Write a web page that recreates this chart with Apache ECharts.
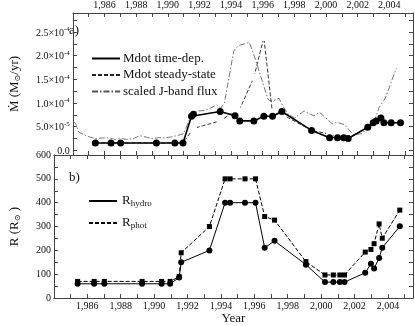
<!DOCTYPE html>
<html>
<head>
<meta charset="utf-8">
<script src="https://cdn.jsdelivr.net/npm/echarts@6/dist/echarts.min.js"></script>
<style>
  html, body { margin: 0; padding: 0; background: #fff; }
  #chart { width: 415px; height: 326px; }
</style>
</head>
<body>
<div id="chart"></div>
<script>
// panel a) – accretion rate, in units of 1e-5 Msun/yr
const yearsA = [1985.42, 1986.41, 1987.02, 1989.28, 1990.45, 1990.96, 1991.5, 1991.62, 1993.31, 1994.25, 1994.55, 1995.44, 1996.07, 1996.62, 1997.21, 1999.09, 2000.23, 2000.73, 2001.12, 2001.4, 2002.64, 2002.98, 2003.17, 2003.47, 2003.66, 2004.12, 2004.71]
const mdotTimeDep = [1.55, 1.55, 1.55, 1.55, 1.55, 1.55, 7.2, 7.6, 8.2, 7.3, 6.2, 6.2, 7.2, 7.2, 8.2, 4.2, 2.65, 2.65, 2.65, 2.5, 4.85, 5.8, 6.2, 6.8, 5.8, 5.8, 5.8]

const yearsSteady = [1985.42, 1986.41, 1987.02, 1989.28, 1990.45, 1990.96, 1991.62, 1993.31, 1994.25, 1994.5, 1995.44, 1996.07, 1996.62, 1997.21, 1999.09, 2000.23, 2000.73, 2001.12, 2001.4, 2002.64, 2002.98, 2003.17, 2003.35, 2003.6]
const mdotSteady = [1.55, 1.55, 1.55, 1.55, 1.55, 1.55, 4.6, 6.2, 8.3, 8.3, 15.4, 23.8, 7.8, 7.6, 4.2, 3.4, 2.65, 2.65, 2.5, 4.85, 5.8, 4.8, 3.9, 3.9]

const yearsJ = [1984.0, 1984.18, 1984.37, 1984.67, 1985.07, 1985.46, 1985.85, 1986.25, 1986.65, 1987.04, 1987.44, 1987.83, 1988.22, 1988.62, 1989.02, 1989.41, 1989.81, 1990.2, 1990.59, 1990.99, 1991.5, 1991.9, 1992.3, 1992.7, 1993.1, 1993.35, 1993.58, 1994.17, 1994.47, 1995.15, 1995.36, 1995.65, 1996.0, 1996.34, 1996.54, 1996.84, 1997.03, 1997.33, 1997.63, 1998.02, 1998.61, 1999.21, 1999.6, 2000.39, 2000.69, 2001.18, 2001.72, 2002.26, 2002.56, 2002.96, 2003.35, 2003.75, 2004.44]
const jbandFlux = [6.2, 5.6, 3.8, 3.35, 2.8, 2.45, 2.6, 2.6, 2.3, 2.45, 2.3, 2.45, 3.1, 2.8, 2.45, 2.65, 2.65, 2.8, 3.1, 3.5, 7.5, 8.3, 8.4, 8.9, 9.6, 8.9, 10.0, 21.0, 22.1, 22.8, 21.0, 18.0, 14.3, 10.7, 10.4, 10.7, 11.0, 9.0, 7.6, 6.8, 8.3, 7.3, 8.0, 5.6, 5.9, 5.4, 3.3, 3.5, 4.5, 5.2, 9.0, 11.0, 17.3]

// panel b) – radii in Rsun
const yearsB = [1985.42, 1986.41, 1987.02, 1989.28, 1990.45, 1990.96, 1991.5, 1991.62, 1993.31, 1994.25, 1994.55, 1995.44, 1996.07, 1996.62, 1997.21, 1999.09, 2000.23, 2000.73, 2001.12, 2001.4, 2002.64, 2002.98, 2003.17, 2003.47, 2003.66, 2004.71]
const rHydro = [60, 60, 60, 60, 60, 60, 86, 150, 200, 400, 400, 400, 400, 211, 240, 140, 67, 67, 67, 67, 106, 144, 124, 168, 211, 301]
const rPhot = [70, 70, 70, 70, 70, 70, 90, 190, 300, 500, 500, 500, 500, 342, 327, 153, 97, 97, 97, 97, 193, 204, 228, 311, 251, 369]

const yearLabels = [1986, 1988, 1990, 1992, 1994, 1996, 1998, 2000, 2002, 2004]
const yearTicks = [1985, 1986, 1987, 1988, 1989, 1990, 1991, 1992, 1993, 1994, 1995, 1996, 1997, 1998, 1999, 2000, 2001, 2002, 2003, 2004, 2005]
const mdotLabels = [0, 5, 10, 15, 20, 25]
const mdotTicks = [0, 2.5, 5, 7.5, 10, 12.5, 15, 17.5, 20, 22.5, 25, 27.5]

const pairs = (xs, ys) => xs.map((x, i) => [x, ys[i]])

const FONT = 'Liberation Serif'
const INK = '#111'
const frame = { show: true, onZero: false, lineStyle: { color: '#444', width: 1 } }

function xAx(grid, pos, labels, extra) {
  return Object.assign({
    type: 'value', gridIndex: grid, position: pos, min: 1984, max: 2005.5,
    axisLine: frame,
    axisTick: { inside: true, length: 4, customValues: yearTicks, lineStyle: { color: '#444' } },
    axisLabel: labels
      ? { show: true, customValues: yearLabels, margin: 3, fontFamily: FONT, fontSize: 10, color: INK }
      : { show: false },
    splitLine: { show: false },
  }, extra || {})
}

const chart = echarts.init(document.getElementById('chart'))

chart.setOption({
  animation: false,
  textStyle: { fontFamily: FONT },
  grid: [
    { left: 50, top: 10, width: 363, height: 145 },
    { left: 50, top: 155, width: 363, height: 149 },
  ],
  xAxis: [
    xAx(0, 'top', true),
    xAx(0, 'bottom', false),
    xAx(1, 'bottom', true, {
      name: 'Year', nameLocation: 'middle', nameGap: 10,
      nameTextStyle: { fontFamily: FONT, fontSize: 13, color: INK },
    }),
    xAx(1, 'top', false),
  ],
  yAxis: [
    {
      type: 'value', gridIndex: 0, position: 'left', min: -1, max: 29,
      axisLine: frame,
      axisTick: { inside: true, length: 4, customValues: mdotTicks, lineStyle: { color: '#444' } },
      axisLabel: {
        customValues: mdotLabels, margin: 3, color: INK,
        formatter: v => v === 0 ? '{b|0.0}'
          : v === 5 ? '{b|5.0×10}{s|-5}'
          : '{b|' + (v / 10).toFixed(1) + '×10}{s|-4}',
        rich: {
          b: { fontFamily: FONT, fontSize: 10, lineHeight: 12, verticalAlign: 'bottom', padding: [4, 0, 0, 0], color: INK },
          s: { fontFamily: FONT, fontSize: 7, lineHeight: 8, verticalAlign: 'top', color: INK },
        },
      },
      splitLine: { show: false },
      name: '{m|Ṁ (M}{o|⊙}{m|/yr)}', nameLocation: 'middle', nameGap: 33, nameRotate: 90,
      nameTextStyle: {
        rich: {
          m: { fontFamily: FONT, fontSize: 13, lineHeight: 14, verticalAlign: 'top', padding: [0, 0, 4, 0], color: INK },
          o: { fontFamily: 'DejaVu Serif', fontSize: 8, lineHeight: 9, verticalAlign: 'bottom', color: INK },
        },
      },
    },
    {
      type: 'value', gridIndex: 0, position: 'right', min: -1, max: 29,
      axisLine: frame,
      axisTick: { inside: true, length: 4, customValues: mdotTicks, lineStyle: { color: '#444' } },
      axisLabel: { show: false }, splitLine: { show: false },
    },
    {
      type: 'value', gridIndex: 1, position: 'left', min: 0, max: 600, interval: 100,
      axisLine: frame,
      axisTick: { inside: true, length: 4, lineStyle: { color: '#444' } },
      minorTick: { show: true, splitNumber: 2, length: 4, lineStyle: { color: '#444' } },
      axisLabel: { margin: 3, fontFamily: FONT, fontSize: 10, color: INK },
      splitLine: { show: false },
      name: '{m|R (R}{o|⊙}{m| )}', nameLocation: 'middle', nameGap: 24, nameRotate: 90,
      nameTextStyle: {
        rich: {
          m: { fontFamily: FONT, fontSize: 13, lineHeight: 14, verticalAlign: 'top', padding: [0, 0, 4, 0], color: INK },
          o: { fontFamily: 'DejaVu Serif', fontSize: 8, lineHeight: 9, verticalAlign: 'bottom', color: INK },
        },
      },
    },
    {
      type: 'value', gridIndex: 1, position: 'right', min: 0, max: 600, interval: 100,
      axisLine: frame,
      axisTick: { inside: true, length: 4, lineStyle: { color: '#444' } },
      minorTick: { show: true, splitNumber: 2, length: 4, lineStyle: { color: '#444' } },
      axisLabel: { show: false }, splitLine: { show: false },
    },
  ],
  legend: [
    {
      data: ['Mdot time-dep.', 'Mdot steady-state', 'scaled J-band flux'],
      orient: 'vertical', left: 86, top: 47, itemWidth: 28, itemHeight: 12, itemGap: 3.5,
      itemStyle: { opacity: 0 },
      textStyle: { fontFamily: FONT, fontSize: 13, color: INK, padding: [0, 0, 0, -2] },
      selectedMode: false,
    },
    {
      data: ['Rhydro', 'Rphot'],
      orient: 'vertical', left: 83, top: 189, itemWidth: 28, itemHeight: 14, itemGap: 5,
      itemStyle: { opacity: 0 },
      formatter: n => '{r|R}{u|' + n.slice(1) + '}',
      textStyle: {
        rich: {
          r: { fontFamily: FONT, fontSize: 13, lineHeight: 14, verticalAlign: 'top', padding: [0, 0, 4, 0], color: INK },
          u: { fontFamily: FONT, fontSize: 9, lineHeight: 10, verticalAlign: 'bottom', color: INK },
        },
      },
      selectedMode: false,
    },
  ],
  graphic: [
    { type: 'text', left: 69, top: 24, style: { text: 'a)', font: '13px "Liberation Serif"', fill: INK } },
    { type: 'text', left: 69, top: 171, style: { text: 'b)', font: '13px "Liberation Serif"', fill: INK } },
  ],
  series: [
    {
      name: 'scaled J-band flux', type: 'line', xAxisIndex: 0, yAxisIndex: 0,
      data: pairs(yearsJ, jbandFlux), showSymbol: false, symbol: 'none',
      lineStyle: { color: '#555', width: 0.8, type: [6, 2, 1.5, 2] }, z: 2,
    },
    {
      name: 'Mdot steady-state', type: 'line', xAxisIndex: 0, yAxisIndex: 0,
      data: pairs(yearsSteady, mdotSteady), symbol: 'emptyRect', symbolSize: 5,
      lineStyle: { color: '#222', width: 0.9, type: [4, 2] },
      itemStyle: { color: '#fff', borderColor: '#333', borderWidth: 0.8 }, z: 3,
    },
    {
      name: 'Mdot time-dep.', type: 'line', xAxisIndex: 0, yAxisIndex: 0,
      data: pairs(yearsA, mdotTimeDep), symbol: 'circle', symbolSize: 7,
      lineStyle: { color: '#000', width: 1.6 }, itemStyle: { color: '#000' }, z: 4,
    },
    {
      name: 'Rhydro', type: 'line', xAxisIndex: 2, yAxisIndex: 2,
      data: pairs(yearsB, rHydro), symbol: 'circle', symbolSize: 6,
      lineStyle: { color: '#000', width: 1 }, itemStyle: { color: '#000' }, z: 4,
    },
    {
      name: 'Rphot', type: 'line', xAxisIndex: 2, yAxisIndex: 2,
      data: pairs(yearsB, rPhot), symbol: 'rect', symbolSize: 5,
      lineStyle: { color: '#000', width: 1, type: [4, 2] }, itemStyle: { color: '#000' }, z: 3,
    },
  ],
})
</script>
</body>
</html>
